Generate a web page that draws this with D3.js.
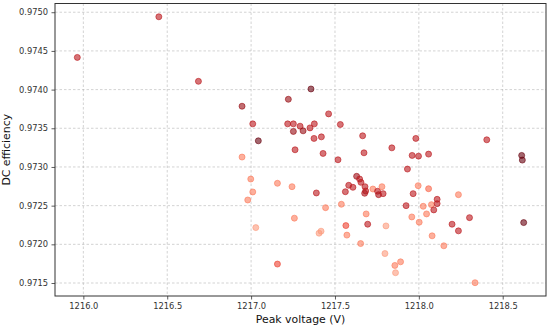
<!DOCTYPE html>
<html>
<head>
<meta charset="utf-8">
<script src="https://cdn.jsdelivr.net/npm/d3@7"></script>
<style>
  html, body { margin: 0; padding: 0; background: #fff; }
  svg { display: block; font-family: "DejaVu Sans", sans-serif; }
</style>
</head>
<body>
<div id="chart"></div>
<script>
// Peak voltage (V) per run
const peakVoltage = [
  1215.964, 1216.450, 1216.686, 1216.946, 1217.010, 1217.043, 1216.946, 1216.998,
  1217.010, 1216.980, 1217.028, 1217.157, 1217.157, 1217.222, 1217.357, 1217.218,
  1217.252, 1217.252, 1217.292, 1217.310, 1217.351, 1217.377, 1217.462, 1217.532,
  1217.375, 1217.419, 1217.262, 1217.429, 1217.518, 1217.244, 1217.665, 1217.673,
  1217.839, 1217.982, 1217.960, 1217.998, 1218.058, 1217.932, 1218.405, 1218.613,
  1218.617, 1218.236, 1218.302, 1218.236, 1218.625, 1218.335, 1217.389, 1217.444,
  1217.258, 1217.405, 1217.417, 1217.565, 1217.571, 1217.538, 1217.562, 1217.582,
  1217.629, 1217.647, 1217.655, 1217.679, 1217.683, 1217.677, 1217.726, 1217.754,
  1217.760, 1217.780, 1217.787, 1217.686, 1217.695, 1217.653, 1217.804, 1217.798,
  1217.857, 1217.891, 1217.861, 1217.996, 1218.058, 1217.966, 1217.924, 1218.026,
  1218.075, 1218.109, 1218.109, 1218.089, 1218.046, 1217.958, 1218.002, 1218.198,
  1218.079, 1218.149, 1217.607
];

// DC efficiency per run
const dcEfficiency = [
  0.974416, 0.974941, 0.974107, 0.973785, 0.973557, 0.973338, 0.973128, 0.972844,
  0.972677, 0.972573, 0.972216, 0.972789, 0.971745, 0.973875, 0.974008, 0.973557,
  0.973557, 0.973459, 0.973527, 0.973467, 0.973505, 0.973557, 0.973686, 0.973549,
  0.973369, 0.973389, 0.973222, 0.973175, 0.973093, 0.972745, 0.973403, 0.973183,
  0.973247, 0.973369, 0.973149, 0.973140, 0.973166, 0.972973, 0.973351, 0.973149,
  0.973089, 0.972642, 0.972345, 0.972174, 0.972281, 0.971504, 0.972664, 0.972474,
  0.972338, 0.972144, 0.972170, 0.972242, 0.972119, 0.972518, 0.972680, 0.972763,
  0.972879, 0.972844, 0.972801, 0.972745, 0.972689, 0.972660, 0.972715, 0.972686,
  0.972642, 0.972745, 0.972655, 0.972393, 0.972260, 0.972010, 0.972238, 0.971881,
  0.971727, 0.971774, 0.971633, 0.972758, 0.972719, 0.972655, 0.972500, 0.972492,
  0.972513, 0.972582, 0.972526, 0.972445, 0.972393, 0.972354, 0.972286, 0.972260,
  0.972110, 0.971981, 0.972737
];

// third variable shown through the colour of each marker (0..1)
const colourValue = [
  0.80, 0.80, 0.80, 0.90, 0.80, 1.00, 0.45, 0.45,
  0.45, 0.45, 0.35, 0.45, 0.62, 0.90, 1.00, 0.80,
  0.80, 0.90, 0.80, 0.90, 0.80, 0.80, 0.80, 0.80,
  0.80, 0.80, 0.80, 0.80, 0.80, 0.45, 0.80, 0.80,
  0.80, 0.80, 0.80, 0.80, 0.80, 0.80, 0.80, 1.00,
  1.00, 0.45, 0.80, 0.80, 1.00, 0.45, 0.80, 0.45,
  0.45, 0.35, 0.35, 0.62, 0.45, 0.45, 0.80, 0.80,
  0.88, 0.80, 0.80, 0.80, 0.80, 0.85, 0.45, 0.80,
  0.85, 0.45, 0.80, 0.45, 0.80, 0.45, 0.35, 0.35,
  0.45, 0.45, 0.35, 0.45, 0.52, 0.80, 0.80, 0.45,
  0.45, 0.80, 0.80, 0.80, 0.45, 0.45, 0.45, 0.80,
  0.45, 0.45, 0.80
];

const xTicks = [1216.0, 1216.5, 1217.0, 1217.5, 1218.0, 1218.5];
const yTicks = [0.9715, 0.9720, 0.9725, 0.9730, 0.9735, 0.9740, 0.9745, 0.9750];

const W = 550, H = 327;
const margin = { top: 3.5, right: 4, bottom: 31, left: 55 };
const iw = W - margin.left - margin.right;
const ih = H - margin.top - margin.bottom;

const points = peakVoltage.map((v, i) => ({ x: v, y: dcEfficiency[i], c: colourValue[i] }));

// domain with matplotlib-like 5% padding
const xExt = d3.extent(peakVoltage), yExt = d3.extent(dcEfficiency);
const xPad = (xExt[1] - xExt[0]) * 0.05, yPad = (yExt[1] - yExt[0]) * 0.05;

const x = d3.scaleLinear().domain([xExt[0] - xPad, xExt[1] + xPad]).range([0, iw]);
const y = d3.scaleLinear().domain([yExt[0] - yPad, yExt[1] + yPad]).range([ih, 0]);
const colour = d3.scaleSequential(d3.interpolateReds).domain([0, 1]);

const svg = d3.select('#chart').append('svg')
  .attr('width', W)
  .attr('height', H);

const g = svg.append('g').attr('transform', `translate(${margin.left},${margin.top})`);

// grid
g.append('g').selectAll('line').data(xTicks).join('line')
  .attr('x1', d => x(d)).attr('x2', d => x(d))
  .attr('y1', 0).attr('y2', ih)
  .attr('stroke', '#b0b0b0').attr('stroke-opacity', 0.7)
  .attr('stroke-width', 0.8).attr('stroke-dasharray', '2.5,2');
g.append('g').selectAll('line').data(yTicks).join('line')
  .attr('x1', 0).attr('x2', iw)
  .attr('y1', d => y(d)).attr('y2', d => y(d))
  .attr('stroke', '#b0b0b0').attr('stroke-opacity', 0.7)
  .attr('stroke-width', 0.8).attr('stroke-dasharray', '2.5,2');

// markers
g.append('g').selectAll('circle').data(points).join('circle')
  .attr('cx', d => x(d.x))
  .attr('cy', d => y(d.y))
  .attr('r', 3)
  .attr('fill', d => colour(d.c))
  .attr('fill-opacity', 0.6)
  .attr('stroke', d => colour(d.c))
  .attr('stroke-opacity', 0.6)
  .attr('stroke-width', 1);

// axes
const xAxis = g.append('g')
  .attr('transform', `translate(0,${ih})`)
  .call(d3.axisBottom(x).tickValues(xTicks).tickFormat(d3.format('.1f')).tickSizeOuter(0).tickSize(3.5).tickPadding(3.5));
const yAxis = g.append('g')
  .call(d3.axisLeft(y).tickValues(yTicks).tickFormat(d3.format('.4f')).tickSizeOuter(0).tickSize(3.5).tickPadding(3.5));

[xAxis, yAxis].forEach(a => {
  a.select('.domain').remove();
  a.selectAll('.tick line').attr('stroke', '#333').attr('stroke-width', 0.8);
  a.selectAll('.tick text')
    .attr('fill', '#333')
    .style('font-size', '8.3px')
    .style('font-family', '"DejaVu Sans", sans-serif');
});

// frame
g.append('rect')
  .attr('width', iw).attr('height', ih)
  .attr('fill', 'none')
  .attr('stroke', '#333').attr('stroke-width', 1);

// axis labels
svg.append('text')
  .attr('x', margin.left + iw / 2)
  .attr('y', H - 4.5)
  .attr('text-anchor', 'middle')
  .attr('fill', '#111')
  .style('font-size', '10.9px')
  .text('Peak voltage (V)');

svg.append('text')
  .attr('transform', `translate(10,${margin.top + ih / 2}) rotate(-90)`)
  .attr('text-anchor', 'middle')
  .attr('fill', '#111')
  .style('font-size', '10.9px')
  .text('DC efficiency');
</script>
</body>
</html>
